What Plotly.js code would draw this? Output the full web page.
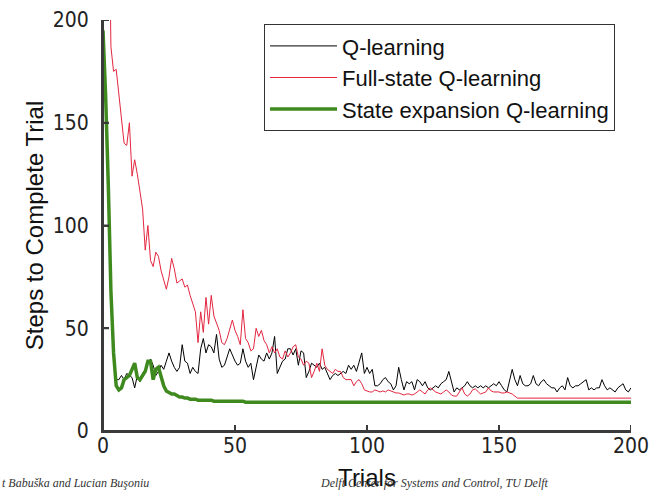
<!DOCTYPE html>
<html>
<head>
<meta charset="utf-8">
<script src="https://cdn.plot.ly/plotly-3.0.1.min.js"></script>
<style>html,body{margin:0;padding:0;background:#fff;}</style>
</head>
<body>
<div id="chart" style="width:656px;height:491px;"></div>
<script>
// Trial index (x axis)
const TRIALS = Array.from({length: 201}, (_, i) => i);

const SERIES_NAMES = ['Q-learning', 'Full-state Q-learning', 'State expansion Q-learning'];

// Steps to complete trial, per trial
const Q_LEARNING = [
  195,163,120,68,38,25,25,27,25,28,
  27,26,21,27,24,28,30,33,35,32,
  27,29,32,30,34,38,34,31,29,31,
  42,34,33,28,31,29,28,40,45,38,
  42,41,38,47,35,31,32,36,40,37,
  34,32,33,40,34,31,33,25,32,37,
  35,34,38,35,38,46,28,31,34,35,
  40,40,37,40,32,39,38,26,29,33,
  32,31,33,30,31,28,25,27,28,27,
  28,29,28,32,30,32,29,33,38,28,
  31,28,30,22,22,23,25,26,24,23,
  20,22,31,25,20,24,23,24,20,25,
  24,22,24,21,20,21,22,21,23,24,
  25,29,24,19,21,20,21,22,24,22,
  21,22,21,22,21,22,21,22,23,22,
  24,22,20,19,24,30,25,22,27,23,
  22,22,23,27,23,22,24,25,23,22,
  21,21,19,21,22,20,26,22,21,22,
  22,23,24,25,20,21,20,21,21,25,
  22,20,21,20,19,21,22,23,20,19,
  21
];

const FULL_STATE = [
  450,380,290,187,175,176,164,150,140,139,
  150,124,132,125,117,108,88,100,83,80,
  87,85,78,74,69,75,84,79,72,73,
  74,70,71,66,62,58,43,58,48,65,
  52,66,56,52,49,43,42,45,49,54,
  49,46,42,59,45,43,39,40,50,46,
  49,44,42,38,41,38,40,36,35,39,
  36,38,41,42,36,35,32,34,33,26,
  29,33,29,40,32,30,29,28,30,29,
  29,26,25,25,25,22,24,25,23,20,
  19.5,19,19,20,19.5,19,19.5,19,20,19.5,
  19,18.5,18.5,18,17.5,18,18,17.5,18,19,
  20,19,18,20,21,20,19,18.5,18,19,
  20,19,17.5,17,17,19,21,18,17,18,
  20,20.5,19,18,18.5,19,21,19.5,19,19,
  19,18.5,18.5,19,18.5,18,17,16,16,16,
  16,16,16,16,16,16,16,16,16,16,
  16,16,16,16,16,16,16,16,16,16,
  16,16,16,16,16,16,16,16,16,16,
  16,16,16,16,16,16,16,16,16,16,
  16
];

const STATE_EXPANSION = [
  195,163,120,68,38,22,20,21,25,26,
  27,30,33,26,25,27,29,34,34,25,
  30,31,26,22,19.5,18.5,18,18,17,16.5,
  16.5,16,16,15.5,15.5,15.5,15,15,15,15,
  15,15,14.5,14.5,14.5,14.5,14.5,14.5,14.5,14.5,
  14.5,14.5,14.5,14.5,14,14,14,14,14,14,
  14,14,14,14,14,14,14,14,14,14,
  14,14,14,14,14,14,14,14,14,14,
  14,14,14,14,14,14,14,14,14,14,
  14,14,14,14,14,14,14,14,14,14,
  14,14,14,14,14,14,14,14,14,14,
  14,14,14,14,14,14,14,14,14,14,
  14,14,14,14,14,14,14,14,14,14,
  14,14,14,14,14,14,14,14,14,14,
  14,14,14,14,14,14,14,14,14,14,
  14,14,14,14,14,14,14,14,14,14,
  14,14,14,14,14,14,14,14,14,14,
  14,14,14,14,14,14,14,14,14,14,
  14,14,14,14,14,14,14,14,14,14,
  14,14,14,14,14,14,14,14,14,14,
  14
];

const X_TICKS = [0, 50, 100, 150, 200];
const Y_TICKS = [0, 50, 100, 150, 200];

const AXIS_COLOR = '#3a3a3a';
const tickFont = {family: '"Liberation Sans Narrow", "DejaVu Sans Condensed", "Arial Narrow", sans-serif', size: 21, color: '#222'};

const traces = [
  {x: TRIALS, y: Q_LEARNING, name: SERIES_NAMES[0], type: 'scatter', mode: 'lines',
   line: {color: '#000000', width: 1}},
  {x: TRIALS, y: FULL_STATE, name: SERIES_NAMES[1], type: 'scatter', mode: 'lines',
   line: {color: '#e3263f', width: 1}},
  {x: TRIALS, y: STATE_EXPANSION, name: SERIES_NAMES[2], type: 'scatter', mode: 'lines',
   line: {color: '#3f8a1f', width: 3.5}}
];

function axisBase() {
  return {
    range: [0, 200], showgrid: false, zeroline: false,
    showline: true, linecolor: AXIS_COLOR, linewidth: 2,
    ticks: 'inside', ticklen: 6, tickwidth: 2, tickcolor: AXIS_COLOR,
    tickfont: tickFont
  };
}

// Axis frame (left and bottom spines) and inward ticks, drawn as shapes as well
const shapes = [
  {type: 'line', xref: 'paper', yref: 'paper', x0: 0, x1: 0, y0: 0, y1: 1,
   line: {color: AXIS_COLOR, width: 2}, layer: 'above'},
  {type: 'line', xref: 'paper', yref: 'paper', x0: 0, x1: 1, y0: 0, y1: 0,
   line: {color: AXIS_COLOR, width: 2}, layer: 'above'}
];
X_TICKS.forEach(v => shapes.push({
  type: 'line', xref: 'x', yref: 'paper', ysizemode: 'pixel', yanchor: 0,
  x0: v, x1: v, y0: 0, y1: 6, line: {color: AXIS_COLOR, width: 2}, layer: 'above'
}));
Y_TICKS.forEach(v => shapes.push({
  type: 'line', xref: 'paper', yref: 'y', xsizemode: 'pixel', xanchor: 0,
  x0: 0, x1: 6, y0: v, y1: v, line: {color: AXIS_COLOR, width: 2}, layer: 'above'
}));

const layout = {
  width: 656, height: 491,
  margin: {l: 103, r: 25, t: 20, b: 60},
  paper_bgcolor: '#ffffff', plot_bgcolor: '#ffffff',
  font: {family: '"Liberation Sans", Arial, sans-serif', color: '#111'},
  showlegend: true,
  xaxis: Object.assign(axisBase(), {
    tickvals: X_TICKS, ticktext: X_TICKS.map(String), ticklabelstandoff: -5,
    title: {text: 'Trials', font: {size: 24, color: '#111'}, standoff: 14}
  }),
  yaxis: Object.assign(axisBase(), {
    tickvals: Y_TICKS, ticktext: Y_TICKS.map(String), ticklabelstandoff: 8,
    title: {text: 'Steps to Complete Trial', font: {size: 24, color: '#111'}, standoff: 2}
  }),
  legend: {
    x: 0.305, y: 0.99, xanchor: 'left', yanchor: 'top',
    bgcolor: '#ffffff', bordercolor: '#333', borderwidth: 1,
    font: {size: 22, color: '#111'}, itemwidth: 67, entrywidth: 272
  },
  shapes: shapes,
  annotations: [
    {text: 't Babuška and Lucian Buşoniu', xref: 'paper', yref: 'paper',
     x: -0.195, y: -0.127, xanchor: 'left', yanchor: 'middle', showarrow: false,
     font: {family: '"Liberation Serif", "DejaVu Serif", serif', size: 12, color: '#333', style: 'italic'}},
    {text: 'Delft Center for Systems and Control, TU Delft', xref: 'paper', yref: 'paper',
     x: 0.407, y: -0.127, xanchor: 'left', yanchor: 'middle', showarrow: false,
     font: {family: '"Liberation Serif", "DejaVu Serif", serif', size: 12, color: '#333', style: 'italic'}}
  ]
};

Plotly.newPlot('chart', traces, layout, {displayModeBar: false, staticPlot: true});
</script>
</body>
</html>
